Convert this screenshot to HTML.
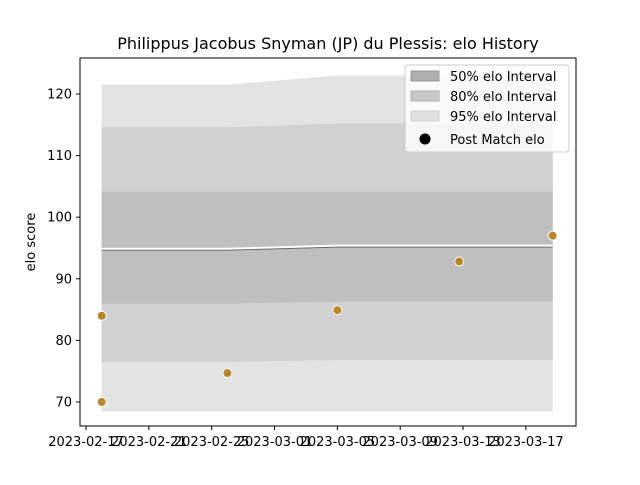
<!DOCTYPE html>
<html><head><meta charset="utf-8"><style>
body{margin:0;background:#fff;font-family:"Liberation Sans","DejaVu Sans",sans-serif;}
text{font-family:"DejaVu Sans","Liberation Sans",sans-serif;}
</style></head><body>
<svg id="chart" width="640" height="480" xmlns="http://www.w3.org/2000/svg">
<rect width="640" height="480" fill="#fff"/>
<text x="328" y="49" font-size="16" text-anchor="middle">Philippus Jacobus Snyman (JP) du Plessis: elo History</text>
<g id="plot"></g>
<rect x="80" y="58" width="496" height="368" fill="none" stroke="#000" stroke-width="1"/>
<text transform="translate(35,242) rotate(-90)" font-size="13" text-anchor="middle">elo score</text>
<g>
<rect x="405" y="65" width="164" height="87" fill="#fff" fill-opacity="0.8" stroke="#ccc" rx="3"/>
<rect x="411" y="71" width="28" height="10" fill="#b0b0b0" stroke="#999"/>
<text x="450" y="81" font-size="13">50% elo Interval</text>
<rect x="411" y="91" width="28" height="10" fill="#c8c8c8" stroke="#b0b0b0"/>
<text x="450" y="101" font-size="13">80% elo Interval</text>
<rect x="411" y="111" width="28" height="10" fill="#e0e0e0" stroke="#d0d0d0"/>
<text x="450" y="121" font-size="13">95% elo Interval</text>
<circle cx="425" cy="139" r="5.5" fill="#000"/>
<text x="450" y="144" font-size="13">Post Match elo</text>
</g>
</svg>
<script>
const bandDates=["2023-02-18T00:00Z","2023-02-26T00:00Z","2023-03-05T00:00Z","2023-03-12T18:00Z","2023-03-18T17:00Z"];
const meanVals=[94.8,94.8,95.3,95.3,95.3];
const lo50=[86.0,86.0,86.3,86.3,86.3];
const hi50=[104.2,104.2,104.2,104.2,104.2];
const lo80=[76.5,76.5,76.8,76.8,76.8];
const hi80=[114.6,114.6,115.2,115.2,115.2];
const lo95=[68.5,68.5,68.5,68.5,68.5];
const hi95=[121.5,121.5,123.0,123.0,123.0];
const matchDates=["2023-02-18T00:00Z","2023-02-18T00:00Z","2023-02-26T00:00Z","2023-03-05T00:00Z","2023-03-12T18:00Z","2023-03-18T17:00Z"];
const matchElo=[84.0,70.0,74.7,84.9,92.8,97.0];
const yTicks=[70,80,90,100,110,120];
const xTicks=["2023-02-17","2023-02-21","2023-02-25","2023-03-01","2023-03-05","2023-03-09","2023-03-13","2023-03-17"];
const NS="http://www.w3.org/2000/svg";
const day0=Date.parse("2023-02-17T00:00Z");
function xs(d){const s=d.length===10?d+"T00:00Z":d;return 86+(Date.parse(s)-day0)/86400000*15.71;}
function ys(v){return 402-(v-70)*6.16;}
const g=document.getElementById('plot');
function mk(t,a){const e=document.createElementNS(NS,t);for(const k in a)e.setAttribute(k,a[k]);g.appendChild(e);return e;}
function band(lo,hi,fill,name){
 let p="";bandDates.forEach((d,i)=>{p+=(i?"L":"M")+xs(d)+","+ys(hi[i]);});
 for(let i=bandDates.length-1;i>=0;i--)p+="L"+xs(bandDates[i])+","+ys(lo[i]);
 const e=mk('path',{d:p+"Z",fill:fill});
 
 
}
band(lo95,hi95,"#e3e3e3","band-95");
band(lo80,hi80,"#d1d1d1","band-80");
band(lo50,hi50,"#bfbfbf","band-50");
let lp="";bandDates.forEach((d,i)=>{lp+=(i?"L":"M")+xs(d)+","+ys(meanVals[i]);});
const ml=mk('path',{d:lp,fill:"none",stroke:"#fff",'stroke-width':3});


const ml2=mk('path',{d:lp,fill:"none",stroke:"#666",'stroke-width':1,transform:"translate(0,1)"});


matchDates.forEach((d,i)=>{
 const c=mk('circle',{cx:xs(d),cy:ys(matchElo[i]),r:4.5,fill:"#b8862b",stroke:"#fff",'stroke-width':1});
 
 
});
yTicks.forEach(v=>{
 const y=ys(v);
 const t=mk('line',{x1:76,x2:80,y1:y,y2:y,stroke:"#000"});
 
 
 const l=mk('text',{x:72,y:y+4.5,'font-size':13,'text-anchor':'end'});l.textContent=v;
 
 
});
xTicks.forEach(d=>{
 const x=xs(d);
 const t=mk('line',{x1:x,x2:x,y1:426,y2:430,stroke:"#000"});
 
 
 const l=mk('text',{x:x,y:446,'font-size':13,'text-anchor':'middle'});l.textContent=d;
 
 
});
</script>
</body></html>
